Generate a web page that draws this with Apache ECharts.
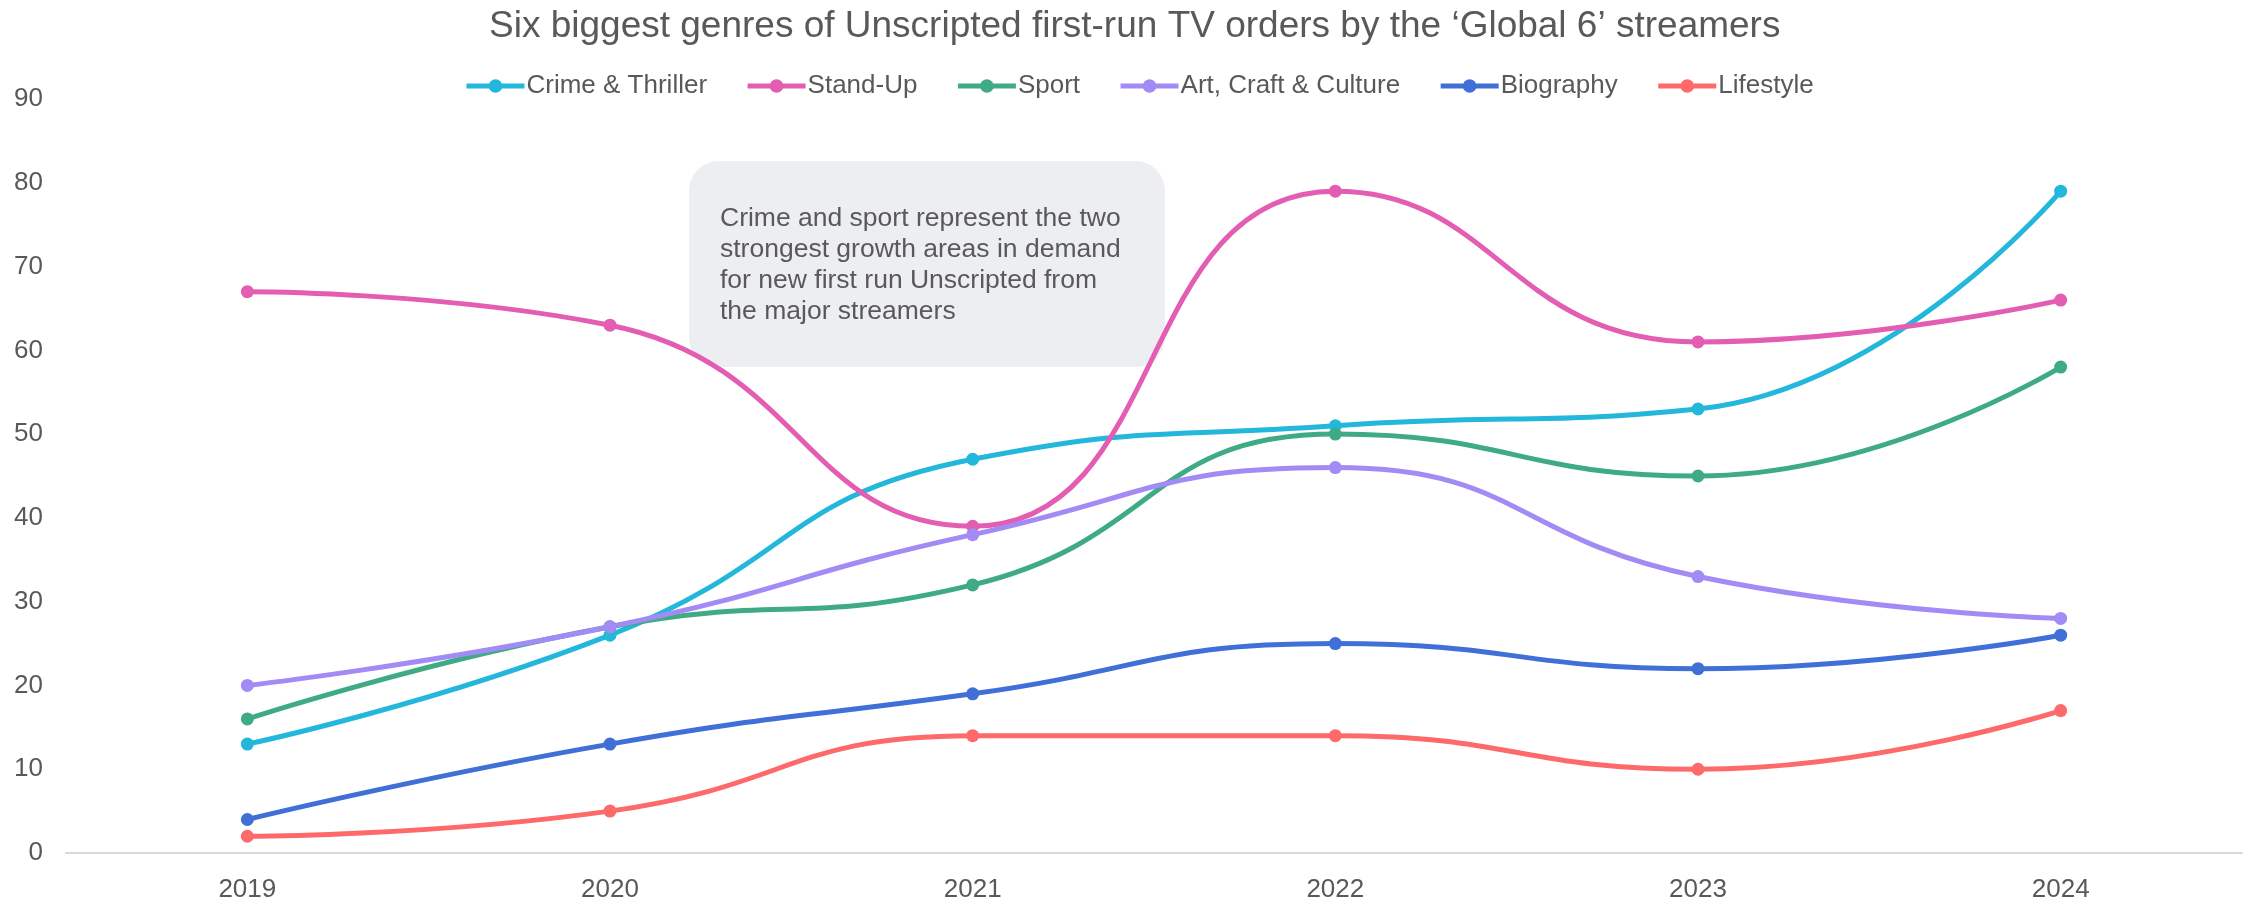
<!DOCTYPE html>
<html>
<head>
<meta charset="utf-8">
<title>Unscripted genres</title>
<script src="https://cdn.jsdelivr.net/npm/echarts@6/dist/echarts.min.js"></script>
<style>
  html, body { margin: 0; padding: 0; background: #fff; }
  #chart { width: 2255px; height: 904px; }
</style>
</head>
<body>
<div id="chart"></div>
<script>
// data
var years = ['2019', '2020', '2021', '2022', '2023', '2024']
var crimeThriller = [13, 26, 47, 51, 53, 79]
var standUp = [67, 63, 39, 79, 61, 66]
var sport = [16, 27, 32, 50, 45, 58]
var artCraftCulture = [20, 27, 38, 46, 33, 28]
var biography = [4, 13, 19, 25, 22, 26]
var lifestyle = [2, 5, 14, 14, 10, 17]
var yTicks = [0, 90, 10] // min, max, interval

var textColor = '#595959'
var fontFamily = "'Liberation Sans', Arial, sans-serif"

function makeSeries(name, data, color) {
  return {
    name: name,
    type: 'line',
    data: data,
    smooth: 0.5,
    symbol: 'circle',
    symbolSize: 13,
    itemStyle: { color: color },
    lineStyle: { color: color, width: 5 },
    animation: false
  }
}

var chart = echarts.init(document.getElementById('chart'))
chart.setOption({
  textStyle: { fontFamily: fontFamily, color: textColor },
  title: {
    text: 'Six biggest genres of Unscripted first-run TV orders by the \u2018Global 6\u2019 streamers',
    left: 484,
    top: 3,
    textStyle: { fontSize: 37, fontWeight: 'normal', color: textColor, fontFamily: fontFamily }
  },
  legend: {
    top: 68,
    left: 459,
    itemWidth: 58,
    itemHeight: 17,
    itemGap: 38,
    lineStyle: { width: 5 },
    textStyle: { fontSize: 26, color: textColor, fontFamily: fontFamily, padding: [0, 0, 0, -3] }
  },
  grid: {
    left: 66,
    right: 13,
    top: 99,
    bottom: 51
  },
  xAxis: {
    type: 'category',
    data: years,
    boundaryGap: true,
    axisLine: { lineStyle: { color: '#d9d9d9', width: 2 } },
    axisTick: { show: false },
    axisLabel: { fontSize: 26, color: textColor, margin: 24 }
  },
  yAxis: {
    type: 'value',
    min: yTicks[0],
    max: yTicks[1],
    interval: yTicks[2],
    axisLine: { show: false },
    axisTick: { show: false },
    splitLine: { show: false },
    axisLabel: { fontSize: 26, color: textColor, margin: 23 }
  },
  graphic: [{
    type: 'group',
    left: 689,
    top: 161,
    children: [{
      type: 'rect',
      shape: { x: 0, y: 0, width: 476, height: 206, r: 30 },
      style: { fill: '#edeef2' }
    }, {
      type: 'text',
      left: 31,
      top: 42,
      style: {
        text: 'Crime and sport represent the two\nstrongest growth areas in demand\nfor new first run Unscripted from\nthe major streamers',
        font: '26.5px ' + fontFamily,
        lineHeight: 31,
        fill: textColor
      }
    }]
  }],
  series: [
    makeSeries('Crime & Thriller', crimeThriller, '#22b7db'),
    makeSeries('Stand-Up', standUp, '#e35db3'),
    makeSeries('Sport', sport, '#3fab84'),
    makeSeries('Art, Craft & Culture', artCraftCulture, '#a28bf4'),
    makeSeries('Biography', biography, '#416fd8'),
    makeSeries('Lifestyle', lifestyle, '#fe6a6a')
  ]
})
</script>
</body>
</html>
